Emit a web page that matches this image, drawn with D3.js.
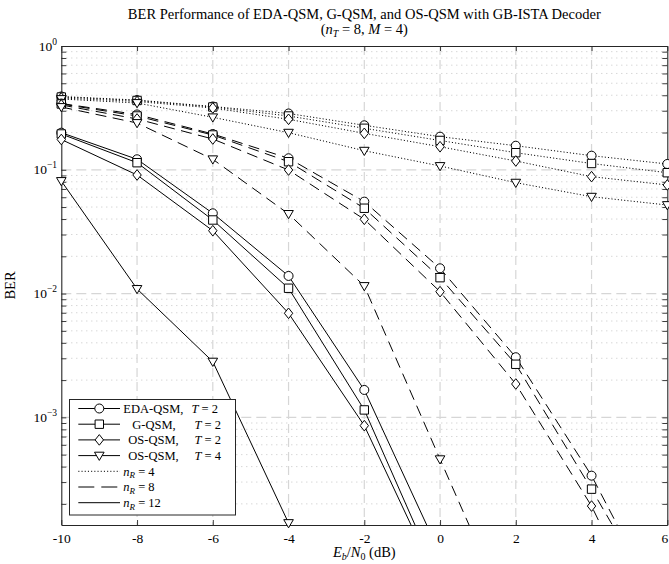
<!DOCTYPE html>
<html>
<head>
<meta charset="utf-8">
<script src="https://cdn.jsdelivr.net/npm/d3@7/dist/d3.min.js"></script>
<style>
  html, body { margin: 0; padding: 0; background: #fff; }
  svg { display: block; }
  text { font-family: "Liberation Serif", "DejaVu Serif", serif; fill: #000; }
</style>
</head>
<body>
<svg id="chart" width="669" height="564"></svg>
<script>
// ---------------- DATA ----------------
const snr = [-10, -8, -6, -4, -2, 0, 2, 4, 6];        // Eb/N0 (dB)
const xTicks = [-10, -8, -6, -4, -2, 0, 2, 4, 6];
const yDecades = [0, -1, -2, -3];                       // tick labels 10^k

// n_R = 4 (dotted)
const edaR4  = [0.391, 0.366, 0.3245, 0.285, 0.2288, 0.1851, 0.1565, 0.130, 0.1114];
const gR4    = [0.387, 0.363, 0.3216, 0.272, 0.2164, 0.1725, 0.1374, 0.1124, 0.0947];
const osR4   = [0.380, 0.356, 0.3157, 0.2558, 0.197, 0.1536, 0.1178, 0.0880, 0.0754];
const os4R4  = [0.373, 0.3464, 0.2655, 0.1994, 0.1426, 0.1073, 0.0787, 0.0606, 0.0519];
// n_R = 8 (dashed)
const edaR8  = [0.343, 0.2797, 0.1946, 0.1239, 0.0553, 0.0160, 0.00306, 3.38e-4, 2.27e-5];
const gR8    = [0.340, 0.272, 0.191, 0.1162, 0.0489, 0.01344, 0.002685, 2.63e-4, 2.33e-5];
const osR8   = [0.334, 0.2572, 0.1773, 0.0996, 0.0398, 0.01036, 0.00186, 1.92e-4, 1.06e-5];
const os4R8  = [0.3215, 0.2388, 0.1216, 0.0440, 0.01151, 4.59e-4, 1.88e-5];
// n_R = 12 (solid)
const edaR12 = [0.1994, 0.1216, 0.0445, 0.01388, 0.001665, 7.9e-5];
const gR12   = [0.1946, 0.1141, 0.0393, 0.01104, 0.001148, 4.7e-5];
const osR12  = [0.1757, 0.0908, 0.0322, 0.00693, 8.57e-4, 4.29e-5];
const os4R12 = [0.0812, 0.0109, 0.00282, 1.40e-4];

const schemeNames = ["EDA-QSM,", "G-QSM,", "OS-QSM,", "OS-QSM,"];
const schemeT = ["2", "2", "2", "4"];
const schemeMarkers = ["circle", "square", "diamond", "triangle"];
const nrLabels = ["4", "8", "12"];

// ---------------- LAYOUT ----------------
const svg = d3.select("#chart");
const X0 = 61.3, X1 = 667.3, Y0 = 46, Y1 = 525;
const yMin = 1.35e-4, yMax = 1;

const x = d3.scaleLinear().domain([-10, 6]).range([X0, X1]);
const y = d3.scaleLog().domain([yMin, yMax]).range([Y1, Y0]);

const dashPat = { dotted: "1.1,2.1", dashed: "11,6.5", solid: null };

const series = [];
const groups = [
  { style: "dotted", arrs: [edaR4, gR4, osR4, os4R4] },
  { style: "dashed", arrs: [edaR8, gR8, osR8, os4R8] },
  { style: "solid",  arrs: [edaR12, gR12, osR12, os4R12] }
];
groups.forEach(g => g.arrs.forEach((a, i) => {
  series.push({ style: g.style, marker: schemeMarkers[i],
    pts: a.map((v, j) => ({ x: snr[j], y: v })) });
}));

// clip
svg.append("defs").append("clipPath").attr("id", "plotClip")
  .append("rect").attr("x", X0).attr("y", Y0).attr("width", X1 - X0).attr("height", Y1 - Y0);

// ---------------- GRID ----------------
const grid = svg.append("g");
const minorVals = [];
for (let d = -4; d <= -1; d++) for (let k = 2; k <= 9; k++) {
  const v = k * Math.pow(10, d);
  if (v > yMin && v < yMax) minorVals.push(v);
}
grid.selectAll("line.ymin").data(minorVals).join("line")
  .attr("x1", X0).attr("x2", X1)
  .attr("y1", d => y(d)).attr("y2", d => y(d))
  .attr("stroke", "#b8b8b8").attr("stroke-width", 0.8)
  .attr("stroke-dasharray", "1,4");
grid.selectAll("line.ymaj").data(yDecades.slice(1)).join("line")
  .attr("x1", X0).attr("x2", X1)
  .attr("y1", d => y(Math.pow(10, d))).attr("y2", d => y(Math.pow(10, d)))
  .attr("stroke", "#d6d6d6").attr("stroke-width", 1.2)
  .attr("stroke-dasharray", "10,5");
grid.selectAll("line.xmaj").data(xTicks.slice(1, -1)).join("line")
  .attr("x1", d => x(d)).attr("x2", d => x(d))
  .attr("y1", Y0).attr("y2", Y1)
  .attr("stroke", "#d6d6d6").attr("stroke-width", 1.2)
  .attr("stroke-dasharray", "9,5");

// ---------------- AXES ----------------
const axisColor = "#262626";
const tickLen = 5;
const allYTicks = yDecades.map(d => Math.pow(10, d)).concat(minorVals);

const axB = svg.append("g").attr("transform", `translate(0,${Y1})`)
  .call(d3.axisBottom(x).tickValues(xTicks).tickSizeInner(-tickLen).tickSizeOuter(0).tickFormat(d => d));
const axT = svg.append("g").attr("transform", `translate(0,${Y0})`)
  .call(d3.axisTop(x).tickValues(xTicks).tickSizeInner(-tickLen).tickSizeOuter(0).tickFormat(""));
const axL = svg.append("g").attr("transform", `translate(${X0},0)`)
  .call(d3.axisLeft(y).tickValues(allYTicks).tickSizeInner(-tickLen).tickSizeOuter(0).tickFormat(""));
const axR = svg.append("g").attr("transform", `translate(${X1},0)`)
  .call(d3.axisRight(y).tickValues(allYTicks).tickSizeInner(-tickLen).tickSizeOuter(0).tickFormat(""));

[axB, axT, axL, axR].forEach(a => {
  a.select(".domain").attr("stroke", axisColor).attr("stroke-width", 1.1);
  a.selectAll(".tick line").attr("stroke", axisColor).attr("stroke-width", 0.9);
});
axB.selectAll(".tick text")
  .attr("font-family", "Liberation Serif, serif").attr("font-size", 13.5)
  .attr("fill", "#000").attr("dy", null).attr("y", 18)
  .attr("x", d => d === 6 ? -3 : 0);

// y tick labels 10^k
const yl = svg.append("g");
yDecades.forEach(d => {
  const t = yl.append("text").attr("x", 57).attr("y", y(Math.pow(10, d)) + 4.5)
    .attr("text-anchor", "end").attr("font-size", 13.5);
  t.append("tspan").text("10");
  t.append("tspan").attr("dy", -6).attr("font-size", 9.5)
    .text(d === 0 ? "0" : "\u2212" + Math.abs(d));
});

// ---------------- SERIES ----------------
const plotG = svg.append("g").attr("clip-path", "url(#plotClip)");
const lineGen = d3.line().x(d => x(d.x)).y(d => y(d.y));
series.forEach(s => {
  plotG.append("path").datum(s.pts).attr("d", lineGen)
    .attr("fill", "none").attr("stroke", "#000").attr("stroke-width", 1)
    .attr("stroke-dasharray", dashPat[s.style]);
});

function markerPath(type) {
  switch (type) {
    case "circle": return "M4.5,0A4.5,4.5 0 1,1 -4.5,0A4.5,4.5 0 1,1 4.5,0Z";
    case "square": return "M-4.2,-4.2H4.2V4.2H-4.2Z";
    case "diamond": return "M0,-5.3L4.2,0L0,5.3L-4.2,0Z";
    case "triangle": return "M-4.8,-3.4L4.8,-3.4L0,4.8Z";
  }
}
const mk = svg.append("g");
series.forEach(s => {
  s.pts.filter(p => p.y >= yMin * 0.999 && p.y <= yMax).forEach(p => {
    mk.append("path").attr("d", markerPath(s.marker))
      .attr("transform", `translate(${x(p.x)},${y(p.y)})`)
      .attr("fill", "#fff").attr("stroke", "#000").attr("stroke-width", 1);
  });
});

// ---------------- LEGEND ----------------
const lg = svg.append("g");
const LX = 69.5, LY = 399.5, LW = 166, LH = 115.5;
lg.append("rect").attr("x", LX).attr("y", LY).attr("width", LW).attr("height", LH)
  .attr("fill", "#fff").attr("stroke", axisColor).attr("stroke-width", 1);
const rowY = i => 408.5 + i * 15.7;
const nameX = [123.3, 132.3, 128.3, 128.3];
schemeNames.forEach((nm, i) => {
  const yy = rowY(i);
  lg.append("line").attr("x1", 78.3).attr("x2", 120).attr("y1", yy).attr("y2", yy)
    .attr("stroke", "#000").attr("stroke-width", 1);
  lg.append("path").attr("d", markerPath(schemeMarkers[i]))
    .attr("transform", `translate(99.3,${yy})`)
    .attr("fill", "#fff").attr("stroke", "#000").attr("stroke-width", 1);
  lg.append("text").attr("x", nameX[i]).attr("y", yy + 4.3).attr("font-size", 12.5).text(nm);
  const t = lg.append("text").attr("x", i === 0 ? 191.5 : 194.5).attr("y", yy + 4.3).attr("font-size", 12.5);
  t.append("tspan").attr("font-style", "italic").text("T");
  t.append("tspan").text(" = " + schemeT[i]);
});
["dotted", "dashed", "solid"].forEach((st, k) => {
  const yy = rowY(4 + k);
  lg.append("line").attr("x1", 78.3).attr("x2", 120).attr("y1", yy).attr("y2", yy)
    .attr("stroke", "#000").attr("stroke-width", 1)
    .attr("stroke-dasharray", st === "dashed" ? "16,7" : (st === "dotted" ? "1.1,2.1" : null));
  const t = lg.append("text").attr("x", 123.3).attr("y", yy + 4.3).attr("font-size", 12.5);
  t.append("tspan").attr("font-style", "italic").text("n");
  t.append("tspan").attr("font-style", "italic").attr("font-size", 9).attr("dy", 2.5).text("R");
  t.append("tspan").attr("dy", -2.5).text(" = " + nrLabels[k]);
});

// ---------------- TITLES ----------------
const cx = (X0 + X1) / 2;
svg.append("text").attr("x", cx).attr("y", 19).attr("text-anchor", "middle").attr("font-size", 14.5)
  .text("BER Performance of EDA-QSM, G-QSM, and OS-QSM with GB-ISTA Decoder");
const t2 = svg.append("text").attr("x", cx).attr("y", 34).attr("text-anchor", "middle").attr("font-size", 14.5);
t2.append("tspan").text("(");
t2.append("tspan").attr("font-style", "italic").text("n");
t2.append("tspan").attr("font-style", "italic").attr("font-size", 10).attr("dy", 3).text("T");
t2.append("tspan").attr("dy", -3).text(" = 8, ");
t2.append("tspan").attr("font-style", "italic").text("M");
t2.append("tspan").text(" = 4)");

const xl = svg.append("text").attr("x", cx).attr("y", 557).attr("text-anchor", "middle").attr("font-size", 14.5);
xl.append("tspan").attr("font-style", "italic").text("E");
xl.append("tspan").attr("font-style", "italic").attr("font-size", 10).attr("dy", 3).text("b");
xl.append("tspan").attr("dy", -3).text("/");
xl.append("tspan").attr("font-style", "italic").text("N");
xl.append("tspan").attr("font-size", 10).attr("dy", 3).text("0");
xl.append("tspan").attr("dy", -3).text(" (dB)");

svg.append("text").attr("transform", `translate(15,${(Y0 + Y1) / 2}) rotate(-90)`)
  .attr("text-anchor", "middle").attr("font-size", 14.5).text("BER");
</script>
</body>
</html>
